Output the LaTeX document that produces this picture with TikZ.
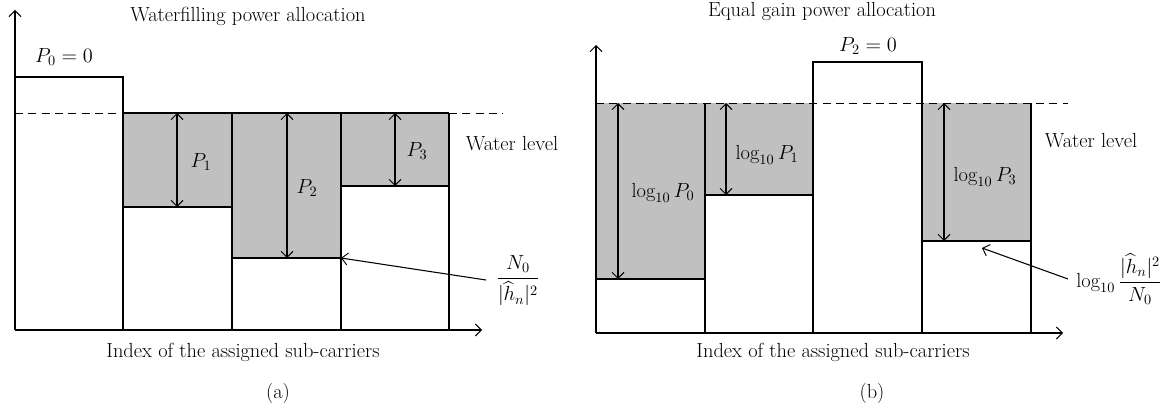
\RequirePackage{fix-cm}
\documentclass[tikz,border=0pt]{standalone}
\usepackage{amsmath}
\usepackage{fontspec}
\usetikzlibrary{arrows.meta}
\definecolor{wgrey}{RGB}{192,192,192}
\begin{document}
\begin{tikzpicture}[x=0.75pt,y=-0.75pt, font=\fontsize{15.3}{17}\selectfont, line width=0.8pt,
  >={Straight Barb[length=4.5pt,width=9pt,line width=0.7pt]},
  wl/.style={dashed, line width=0.7pt, dash pattern=on 6pt off 4pt},
  lbl/.style={inner sep=1pt}]
\useasboundingbox (0,0) rectangle (1174,410);
% ---------- left panel ----------
\fill[wgrey] (123,113) rectangle (232,207);
\fill[wgrey] (232,113) rectangle (341,258);
\fill[wgrey] (341,113) rectangle (449,186);
\draw (15,77) -- (123,77) -- (123,330);
\draw (123,113) -- (449,113);
\draw (232,113) -- (232,330);
\draw (341,113) -- (341,330);
\draw (449,113) -- (449,330);
\draw (123,207) -- (232,207);
\draw (232,258) -- (341,258);
\draw (341,186) -- (449,186);
\draw[wl] (15,113) -- (123,113);
\draw[wl] (449,113) -- (503,113);
\coordinate (ao) at (15,330);
\coordinate (ay) at (15,10);
\coordinate (ax) at (482,330);
\draw[->] (ao) -- (ay);
\draw[->] (ao) -- (ax);
\coordinate (p1t) at (177,113); \coordinate (p1b) at (177,207);
\coordinate (p2t) at (287,113); \coordinate (p2b) at (287,258);
\coordinate (p3t) at (395,113); \coordinate (p3b) at (395,186);
\draw[<->] (p1t) -- (p1b);
\draw[<->] (p2t) -- (p2b);
\draw[<->] (p3t) -- (p3b);
\node[lbl] (tA) at (248,16) {Waterfilling power allocation};
\node[lbl] (p0) at (64,57) {$P_0=0$};
\node[lbl] (lp1) at (201,162) {$P_1$};
\node[lbl] (lp2) at (307,188) {$P_2$};
\node[lbl] (lp3) at (417,151) {$P_3$};
\node[lbl] (wlA) at (512,144) {Water level};
\node[lbl] (nA) at (518,281) {$\dfrac{N_0}{|\widehat{h}_n|^2}$};
\coordinate (nAt) at (341,258);
\draw[->] (486,280) -- (nAt);
\node[lbl] (xA) at (243,352) {Index of the assigned sub-carriers};
\node[lbl] (capA) at (278,393) {(a)};
% ---------- right panel ----------
\fill[wgrey] (596,103) rectangle (705,279);
\fill[wgrey] (705,103) rectangle (813,195);
\fill[wgrey] (922,103) rectangle (1031,241);
\draw (705,333) -- (705,103);
\draw (813,333) -- (813,62) -- (922,62) -- (922,333);
\draw (1031,333) -- (1031,103);
\draw (596,279) -- (705,279);
\draw (705,195) -- (813,195);
\draw (922,241) -- (1031,241);
\draw[wl] (596,103) -- (1068,103);
\coordinate (bo) at (596,333);
\coordinate (by) at (596,45);
\coordinate (bx) at (1063,333);
\draw[->] (bo) -- (by);
\draw[->] (bo) -- (bx);
\coordinate (q0t) at (618,103); \coordinate (q0b) at (618,279);
\coordinate (q1t) at (726,103); \coordinate (q1b) at (726,195);
\coordinate (q3t) at (944,103); \coordinate (q3b) at (944,241);
\draw[<->] (q0t) -- (q0b);
\draw[<->] (q1t) -- (q1b);
\draw[<->] (q3t) -- (q3b);
\node[lbl] (tB) at (822,12) {Equal gain power allocation};
\node[lbl] (p2) at (868,46) {$P_2=0$};
\node[lbl] (lq0) at (663,193) {$\log_{10}P_0$};
\node[lbl] (lq1) at (767,155) {$\log_{10}P_1$};
\node[lbl] (lq3) at (985,177) {$\log_{10}P_3$};
\node[lbl] (wlB) at (1091,141) {Water level};
\node[lbl] (nB) at (1119,279) {$\log_{10}\dfrac{|\widehat{h}_n|^2}{N_0}$};
\coordinate (nBt) at (982,248);
\draw[->] (1068,279) -- (nBt);
\node[lbl] (xB) at (833,352) {Index of the assigned sub-carriers};
\node[lbl] (capB) at (872,393) {(b)};
\end{tikzpicture}
\end{document}
